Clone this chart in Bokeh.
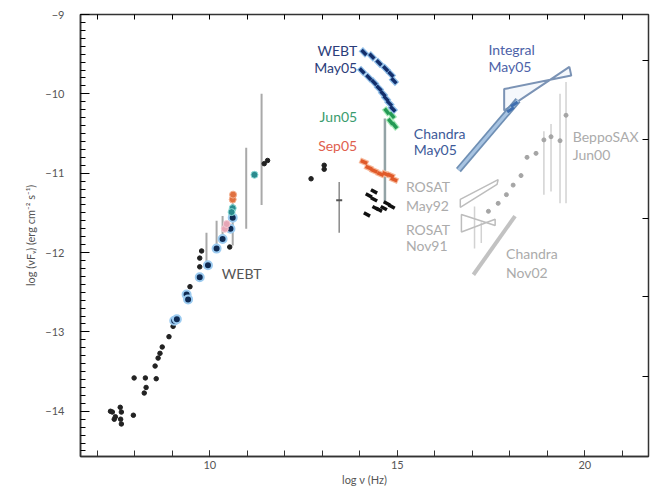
from bokeh.plotting import figure
from bokeh.models import Range1d, LinearAxis, FixedTicker, Label
from bokeh.embed import file_html
from bokeh.resources import INLINE

# ---------------- data (log nu [Hz], log nuFnu [erg cm^-2 s^-1]) ----------------
# archival radio / mm / IR points (black)
blk_x = [7.35, 7.40, 7.45, 7.48, 7.61, 7.62, 7.64, 7.64, 7.96, 7.98, 8.28, 8.30, 8.25,
         8.57, 8.54, 8.62, 8.67, 8.73, 8.91, 9.07, 9.02, 9.47, 9.73, 9.73, 9.78, 10.53,
         11.54, 11.45, 12.70, 13.05, 13.05]
blk_y = [-14.00, -14.01, -14.10, -14.07, -13.95, -14.10, -14.01, -14.16, -14.05, -13.58,
         -13.58, -13.70, -13.77, -13.59, -13.43, -13.33, -13.27, -13.19, -13.06, -12.84,
         -12.93, -12.43, -12.18, -12.07, -11.98, -11.93, -10.84, -10.88, -11.07, -10.90,
         -10.95]

# WEBT radio / mm (navy with light-blue halo)
webt_r_x = [9.05, 9.12, 9.38, 9.42, 9.73, 9.95, 10.18, 10.34, 10.55, 10.61]
webt_r_y = [-12.86, -12.84, -12.53, -12.59, -12.31, -12.16, -11.95, -11.83, -11.70, -11.56]

# other coloured mm points
orng_x = [10.61, 10.62]
orng_y = [-11.33, -11.27]
teal_x = [10.61, 10.58, 11.19]
teal_y = [-11.44, -11.49, -11.02]
pink_x = [10.40, 10.45]
pink_y = [-11.70, -11.64]

# error bars: radio/mm (medium grey)
eb_r_x = [9.91, 10.18, 10.34, 10.61, 10.97, 11.38]
eb_r_lo = [-12.20, -11.91, -11.79, -11.91, -11.70, -11.40]
eb_r_hi = [-11.75, -11.60, -11.54, -11.38, -10.68, -10.00]
# error bar: IR
eb_ir_x = [13.45]
eb_ir_lo = [-11.75]
eb_ir_hi = [-11.11]
eb_ir_pt = [-11.34]
# error bars: X-ray archival (light grey)
eb_x_x = [17.06, 17.24, 18.91, 19.10, 19.34, 19.50]
eb_x_lo = [-11.95, -11.88, -11.27, -11.23, -11.38, -11.38]
eb_x_hi = [-11.42, -11.62, -10.47, -10.38, -10.00, -9.85]

# WEBT May05 optical (two streaks)
may_x = [14.11, 14.32, 14.51, 14.69, 14.83, 14.91,
         14.06, 14.24, 14.38, 14.51, 14.62, 14.70, 14.79, 14.88]
may_y = [-9.478, -9.527, -9.609, -9.683, -9.753, -9.836,
         -9.712, -9.794, -9.856, -9.930, -10.00, -10.06, -10.12, -10.19]
# Jun05
jun_x = [14.72, 14.86, 14.82, 14.93]
jun_y = [-10.22, -10.27, -10.35, -10.40]
# Sep05
sep_x = [14.11, 14.24, 14.38, 14.55, 14.69, 14.82, 14.91]
sep_y = [-10.86, -10.93, -10.97, -11.01, -11.01, -11.03, -11.08]
# archival optical (black)
opt_x = [14.42, 14.51, 14.64, 14.72, 14.85, 14.24, 14.38, 14.19, 14.38]
opt_y = [-11.44, -11.46, -11.44, -11.38, -11.42, -11.28, -11.23, -11.52, -11.33]
# optical variability range
vr_x = [14.67]
vr_lo = [-11.38]
vr_hi = [-10.31]

# Chandra May05 spectrum
chm_x = [16.63, 18.22]
chm_y = [-10.96, -10.08]
chm_pt_x = [18.02, 18.12]
chm_pt_y = [-10.20, -10.13]
# Integral May05 bow-tie
int_x = [17.85, 19.64, 19.59, 17.85]
int_y = [-9.94, -9.77, -9.66, -10.21]
# ROSAT May92
rm_x = [16.68, 17.69, 17.66, 16.68]
rm_y = [-11.33, -11.08, -11.14, -11.43]
# ROSAT Nov91
rn_x = [16.71, 17.61, 17.61, 16.71]
rn_y = [-11.52, -11.66, -11.58, -11.74]
# Chandra Nov02
chn_x = [17.03, 18.14]
chn_y = [-12.28, -11.54]
# BeppoSAX Jun00
sax_x = [17.43, 17.69, 17.91, 18.09, 18.30, 18.46, 18.70, 18.91, 19.10, 19.34, 19.50]
sax_y = [-11.48, -11.38, -11.27, -11.15, -11.03, -10.80, -10.75, -10.58, -10.54, -10.59, -10.27]

# annotations
lab_text = ["WEBT", "May05", "Jun05", "Sep05", "Chandra", "May05", "Integral", "May05",
            "BeppoSAX", "Jun00", "ROSAT", "May92", "ROSAT", "Nov91", "Chandra", "Nov02", "WEBT"]
lab_x = [13.93, 13.93, 13.93, 13.93, 15.44, 15.44, 17.43, 17.43,
         19.68, 19.68, 15.23, 15.23, 15.23, 15.23, 17.90, 17.90, 10.32]
lab_y = [-9.457, -9.667, -10.284, -10.654, -10.494, -10.704, -9.444, -9.654,
         -10.543, -10.765, -11.173, -11.407, -11.704, -11.914, -12.012, -12.247, -12.27]
lab_col = ["#2b3d7a", "#2b3d7a", "#3a9c6e", "#e0604e", "#3d5a99", "#3d5a99", "#4d62a8", "#4d62a8",
           "#ababab", "#ababab", "#ababab", "#ababab", "#ababab", "#ababab", "#ababab", "#ababab",
           "#555555"]
lab_align = ["right", "right", "right", "right"] + ["left"] * 13

x_labelled = [10, 15, 20]
x_every = list(range(7, 22))
y_ticks = [-14, -13, -12, -11, -10, -9]
y_labels = {-14: "\u221214", -13: "\u221213", -12: "\u221212", -11: "\u221211",
            -10: "\u221210", -9: "\u22129"}
y_minor = [round(-14.5 + 0.1 * i, 2) for i in range(56)]
right_ticks = [-13.56, -12.56, -11.57, -10.58, -9.58]

FONT = "Lato"

p = figure(width=651, height=488, output_backend="svg", toolbar_location=None,
           x_range=Range1d(6.55, 21.7), y_range=Range1d(-14.57, -9.0),
           min_border_left=80, min_border_right=3, min_border_top=14, min_border_bottom=28,
           background_fill_color="white", border_fill_color="white")
p.grid.visible = False
p.outline_line_color = "#333333"
p.outline_line_width = 1.5

# axes
xa = p.xaxis[0]
xa.ticker = FixedTicker(ticks=x_labelled, minor_ticks=x_every)
xa.major_tick_in = 6
xa.major_tick_out = 0
xa.minor_tick_in = 6
xa.minor_tick_out = 0
xa.minor_tick_line_color = "#333333"
xa.axis_line_color = "#333333"
xa.axis_line_width = 1.5
xa.major_label_text_font = FONT
xa.major_label_text_font_size = "11px"
xa.major_label_text_color = "#555555"
xa.major_label_standoff = 4
xa.axis_label = "log \u03bd (Hz)"
xa.axis_label_text_font = FONT
xa.axis_label_text_font_size = "11px"
xa.axis_label_text_font_style = "normal"
xa.axis_label_text_color = "#555555"
xa.axis_label_standoff = 1

ya = p.yaxis[0]
ya.ticker = FixedTicker(ticks=y_ticks, minor_ticks=y_minor)
ya.major_label_overrides = y_labels
ya.major_tick_in = 9
ya.major_tick_out = 0
ya.minor_tick_in = 5
ya.minor_tick_out = 0
ya.axis_line_color = "#333333"
ya.axis_line_width = 1.5
ya.major_label_text_font = FONT
ya.major_label_text_font_size = "11px"
ya.major_label_text_color = "#555555"
ya.major_label_standoff = 16
ya.axis_label = "log (\u03bdF\u1d65) (erg cm\u207b\u00b2 s\u207b\u00b9)"
ya.axis_label_text_font = FONT
ya.axis_label_text_font_size = "11px"
ya.axis_label_text_font_style = "normal"
ya.axis_label_text_color = "#555555"
ya.axis_label_standoff = 5

top = LinearAxis(ticker=FixedTicker(ticks=[], minor_ticks=x_every), minor_tick_in=5,
                 minor_tick_out=0, major_tick_in=0, major_tick_out=0,
                 major_label_standoff=0, axis_line_color="#333333")
p.add_layout(top, "above")
right = LinearAxis(ticker=FixedTicker(ticks=[], minor_ticks=right_ticks), minor_tick_in=6,
                   minor_tick_out=0, major_tick_in=0, major_tick_out=0,
                   major_label_standoff=0, axis_line_color="#333333")
p.add_layout(right, "right")

# error bars
p.segment(x0=eb_x_x, y0=eb_x_lo, x1=eb_x_x, y1=eb_x_hi, line_color="#d2d2d2", line_width=1.5)
p.segment(x0=eb_r_x, y0=eb_r_lo, x1=eb_r_x, y1=eb_r_hi, line_color="#a9a9a9", line_width=2)
p.segment(x0=eb_ir_x, y0=eb_ir_lo, x1=eb_ir_x, y1=eb_ir_hi, line_color="#8a8a8a", line_width=1.5)
p.scatter(eb_ir_x, eb_ir_pt, marker="dash", size=6, line_color="#555555", line_width=2)
p.segment(x0=vr_x, y0=vr_lo, x1=vr_x, y1=vr_hi, line_color="#93a3a6", line_width=2.5)

# X-ray spectra
p.patch(rm_x, rm_y, fill_color=None, line_color="#bdbdbd", line_width=1.5)
p.patch(rn_x, rn_y, fill_color=None, line_color="#bdbdbd", line_width=1.5)
p.line(chn_x, chn_y, line_color="#c2c2c2", line_width=4)
p.scatter(sax_x, sax_y, marker="circle", size=4, fill_color="#a5a5a5", line_color="#a5a5a5")
p.patch(int_x, int_y, fill_color="#eef3fa", fill_alpha=0.6, line_color="#7b93b5", line_width=2)
p.line(chm_x, chm_y, line_color="#6f8fb4", line_width=6.5)
p.line(chm_x, chm_y, line_color="#a8c4e2", line_width=3)
p.scatter(chm_pt_x, chm_pt_y, marker="dash", size=8, angle=0.6, line_color="#3f6fb0", line_width=3)

# radio/mm
p.scatter(blk_x, blk_y, marker="circle", size=4.5, fill_color="#222222", line_color="#222222")
p.scatter(webt_r_x, webt_r_y, marker="circle", size=8, fill_color="#0f2a52",
          line_color="#9ccbf0", line_width=2)
p.scatter(pink_x, pink_y, marker="circle", size=7, fill_color="#e6a6b6", line_color="#f3cbd5", line_width=1)
p.scatter(teal_x, teal_y, marker="circle", size=7, fill_color="#2a8a8e", line_color="#8fdcd8", line_width=1)
p.scatter(orng_x, orng_y, marker="circle", size=7, fill_color="#e07040", line_color="#f4b090", line_width=1)

# optical
p.scatter(opt_x, opt_y, marker="dash", size=7, angle=-0.5, line_color="#111111", line_width=3.5)
p.scatter(sep_x, sep_y, marker="dash", size=9, angle=-0.4, line_color="#f6b89a", line_width=6)
p.scatter(sep_x, sep_y, marker="dash", size=7, angle=-0.4, line_color="#e05a2a", line_width=3.5)
p.scatter(jun_x, jun_y, marker="dash", size=9, angle=-0.9, line_color="#a6eab8", line_width=6)
p.scatter(jun_x, jun_y, marker="dash", size=7, angle=-0.9, line_color="#249a55", line_width=3.5)
p.scatter(may_x, may_y, marker="dash", size=9, angle=-0.8, line_color="#8ebde8", line_width=6)
p.scatter(may_x, may_y, marker="dash", size=7, angle=-0.8, line_color="#132f6c", line_width=3.5)

# annotations
for t, x, y, c, a in zip(lab_text, lab_x, lab_y, lab_col, lab_align):
    p.add_layout(Label(x=x, y=y, text=t, text_color=c, text_align=a, text_baseline="middle",
                       text_font=FONT, text_font_size="14px"))

open("out.html", "w").write(file_html(p, INLINE))
